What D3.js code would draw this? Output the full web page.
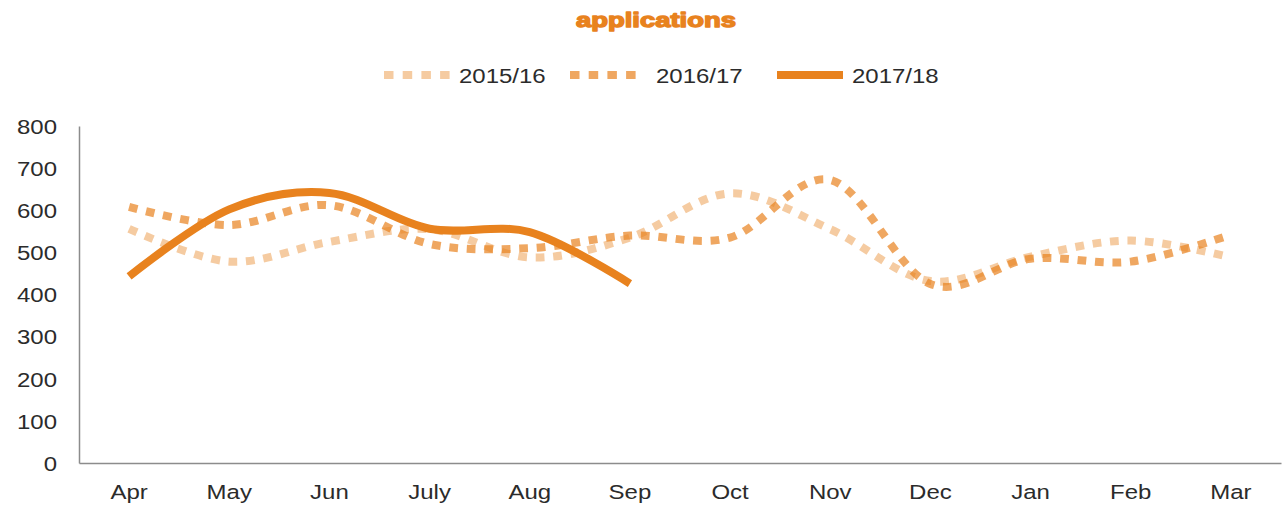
<!DOCTYPE html>
<html>
<head>
<meta charset="utf-8">
<script src="https://cdn.jsdelivr.net/npm/d3@7/dist/d3.min.js"></script>
<style>
  html, body { margin: 0; padding: 0; background: #fff; }
  svg { display: block; }
  text { font-family: "Liberation Sans", Arial, sans-serif; }
</style>
</head>
<body>
<svg id="chart" width="1283" height="506"></svg>
<script>
const title = "applications";
const months = ["Apr","May","Jun","July","Aug","Sep","Oct","Nov","Dec","Jan","Feb","Mar"];
const seriesNames = ["2015/16","2016/17","2017/18"];
const values1516 = [556, 478, 525, 555, 488, 535, 640, 555, 432, 490, 528, 488];
const values1617 = [608, 565, 612, 520, 510, 540, 535, 672, 425, 485, 478, 542];
const values1718 = [443, 602, 641, 556, 548, 426];
const yTicks = [0, 100, 200, 300, 400, 500, 600, 700, 800];

const orange = "#E8821E";
const styles = [
  { opacity: 0.42, dash: "8.75,8.75" },
  { opacity: 0.7, dash: "8.75,8.75" },
  { opacity: 1, dash: null }
];
const allSeries = [values1516, values1617, values1718];

const svg = d3.select("#chart");
const margin = { left: 79, right: 2, top: 126, bottom: 43 };
const W = 1283, H = 506;
const SX = 1.17; // horizontal text stretch as in the reference

const x = d3.scaleBand().domain(months).range([margin.left, W - margin.right]);
const y = d3.scaleLinear().domain([0, 800]).range([H - margin.bottom, margin.top]);

function stretched(sel, px, py) {
  return sel.attr("transform", `translate(${px},${py}) scale(${SX},1)`);
}

// Title
svg.append("text")
  .attr("x", 576).attr("y", 27)
  .attr("textLength", 160).attr("lengthAdjust", "spacingAndGlyphs")
  .attr("font-size", 21).attr("font-weight", "bold")
  .attr("fill", orange).attr("stroke", orange).attr("stroke-width", 1.4)
  .attr("stroke-linejoin", "round")
  .text(title);

// Axes
const yAxis = d3.axisLeft(y).tickValues(yTicks).tickSize(0).tickPadding(0);
const gy = svg.append("g").attr("transform", `translate(${margin.left},0)`).call(yAxis);
gy.select(".domain").attr("stroke", "#8c8c8c").attr("stroke-width", 1.5);
gy.selectAll(".tick text").each(function(d) {
  const t = d3.select(this);
  t.attr("x", null).attr("dy", null)
   .attr("text-anchor", "end").attr("font-size", 20.5).attr("fill", "#2b2b2b")
   .attr("font-family", "Liberation Sans, Arial, sans-serif");
  stretched(t, 57 - margin.left, 7.3);
});

const xAxis = d3.axisBottom(x).tickSize(0).tickPadding(0);
const gx = svg.append("g").attr("transform", `translate(0,${y(0)})`).call(xAxis);
gx.select(".domain").attr("stroke", "#8c8c8c").attr("stroke-width", 1.5);
gx.selectAll(".tick text").each(function() {
  const t = d3.select(this);
  t.attr("y", null).attr("dy", null)
   .attr("text-anchor", "middle").attr("font-size", 20.5).attr("fill", "#2b2b2b")
   .attr("font-family", "Liberation Sans, Arial, sans-serif");
  stretched(t, 0, 36);
});

// Lines
const line = d3.line()
  .x((d, i) => x(months[i]) + x.bandwidth() / 2)
  .y(d => y(d))
  .curve(d3.curveCardinal.tension(0));

allSeries.forEach((vals, k) => {
  const p = svg.append("path")
    .datum(vals)
    .attr("d", line)
    .attr("fill", "none")
    .attr("stroke", orange)
    .attr("stroke-opacity", styles[k].opacity)
    .attr("stroke-width", 8)
    .attr("stroke-linecap", "butt")
    .attr("stroke-linejoin", "round");
  if (styles[k].dash) p.attr("stroke-dasharray", styles[k].dash);
});

// Legend
const legendItems = [
  { name: seriesNames[0], x0: 384, tx: 459 },
  { name: seriesNames[1], x0: 570, tx: 656 },
  { name: seriesNames[2], x0: 777, tx: 852 }
];
legendItems.forEach((it, k) => {
  const l = svg.append("line")
    .attr("x1", it.x0).attr("x2", it.x0 + 66)
    .attr("y1", 75).attr("y2", 75)
    .attr("stroke", orange)
    .attr("stroke-opacity", styles[k].opacity)
    .attr("stroke-width", 8);
  if (styles[k].dash) l.attr("stroke-dasharray", "9.5,9.2");
  stretched(svg.append("text")
    .attr("font-size", 20.5).attr("fill", "#2b2b2b")
    .text(it.name), it.tx, 82.5);
});
</script>
</body>
</html>
